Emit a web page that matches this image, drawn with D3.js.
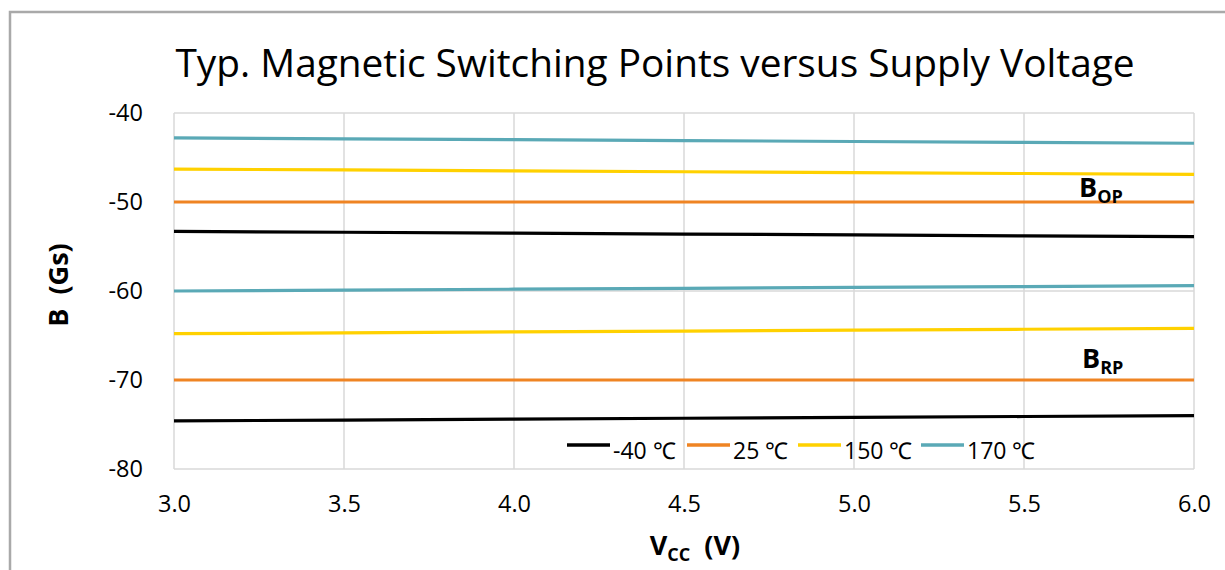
<!DOCTYPE html>
<html>
<head>
<meta charset="utf-8">
<script src="https://cdn.jsdelivr.net/npm/d3@7"></script>
<style>
  body { margin: 0; background: #fff; }
  svg text { font-family: "Segoe UI", "Open Sans", sans-serif; fill: #000; }
</style>
</head>
<body>
<div id="chart"></div>
<script>
// supply voltage (V)
const voltages = [3.0, 3.5, 4.0, 4.5, 5.0, 5.5, 6.0];
const temps = ["-40 ℃", "25 ℃", "150 ℃", "170 ℃"];
const colors = ["#000000", "#ef8423", "#ffd100", "#5aa9b6"];

// operate points B_OP (Gs)
const bopM40 = [-53.3, -53.4, -53.5, -53.6, -53.7, -53.8, -53.9];
const bop25 = [-50, -50, -50, -50, -50, -50, -50];
const bop150 = [-46.3, -46.4, -46.5, -46.6, -46.7, -46.8, -46.9];
const bop170 = [-42.8, -42.9, -43.0, -43.1, -43.2, -43.3, -43.4];

// release points B_RP (Gs)
const brpM40 = [-74.6, -74.5, -74.4, -74.3, -74.2, -74.1, -74.0];
const brp25 = [-70, -70, -70, -70, -70, -70, -70];
const brp150 = [-64.8, -64.7, -64.6, -64.5, -64.4, -64.3, -64.2];
const brp170 = [-60.0, -59.9, -59.8, -59.7, -59.6, -59.5, -59.4];

const xTicks = [3.0, 3.5, 4.0, 4.5, 5.0, 5.5, 6.0];
const yTicks = [-80, -70, -60, -50, -40];

const series = [
  { temp: 0, values: bopM40 }, { temp: 1, values: bop25 },
  { temp: 2, values: bop150 }, { temp: 3, values: bop170 },
  { temp: 0, values: brpM40 }, { temp: 1, values: brp25 },
  { temp: 2, values: brp150 }, { temp: 3, values: brp170 }
];

const W = 1225, H = 570;
const margin = { top: 113, right: 31, bottom: 101, left: 174 };
const width = W - margin.left - margin.right;
const height = H - margin.top - margin.bottom;

const svg = d3.select("#chart").append("svg")
  .attr("width", W).attr("height", H);

// outer chart frame (runs off the right and bottom edges)
svg.append("rect")
  .attr("x", 10).attr("y", 12)
  .attr("width", W + 20).attr("height", H + 20)
  .attr("fill", "none").attr("stroke", "#a9a9a9").attr("stroke-width", 2.5);

svg.append("text")
  .attr("x", 655).attr("y", 77)
  .attr("text-anchor", "middle")
  .style("font-size", "38.8px")
  .text("Typ. Magnetic Switching Points versus Supply Voltage");

const g = svg.append("g")
  .attr("transform", `translate(${margin.left},${margin.top})`);

const x = d3.scaleLinear().domain([3, 6]).range([0, width]);
const y = d3.scaleLinear().domain([-80, -40]).range([height, 0]);

// grid
g.append("g").selectAll("line").data(xTicks).enter().append("line")
  .attr("x1", d => x(d)).attr("x2", d => x(d))
  .attr("y1", 0).attr("y2", height)
  .attr("stroke", "#d9d9d9").attr("stroke-width", 1.5);
g.append("g").selectAll("line").data(yTicks).enter().append("line")
  .attr("x1", 0).attr("x2", width)
  .attr("y1", d => y(d)).attr("y2", d => y(d))
  .attr("stroke", "#d9d9d9").attr("stroke-width", 1.5);

// axes (labels only)
const xAxis = g.append("g")
  .attr("transform", `translate(0,${height})`)
  .call(d3.axisBottom(x).tickValues(xTicks).tickFormat(d3.format(".1f")).tickSize(0).tickPadding(26));
const yAxis = g.append("g")
  .call(d3.axisLeft(y).tickValues(yTicks).tickFormat(d => String(d)).tickSize(0).tickPadding(31));
[xAxis, yAxis].forEach(a => {
  a.select(".domain").remove();
  a.selectAll("text").style("font-size", "23.5px").style("font-family", null);
});

// lines
const line = d3.line()
  .x((d, i) => x(voltages[i]))
  .y(d => y(d));

g.selectAll(".series").data(series).enter().append("path")
  .attr("class", "series")
  .attr("d", d => line(d.values))
  .attr("fill", "none")
  .attr("stroke", d => colors[d.temp])
  .attr("stroke-width", 3.2);

// B_OP / B_RP annotations
function bLabel(xp, yp, sub) {
  const t = svg.append("text")
    .attr("x", xp).attr("y", yp)
    .style("font-size", "27px").style("font-weight", "bold");
  t.append("tspan").text("B");
  t.append("tspan").attr("dy", 6).style("font-size", "18px").text(sub);
}
bLabel(1079, 197, "OP");
bLabel(1082, 368, "RP");

// legend
const legendX = [567, 687, 798, 921];
const lg = svg.append("g");
temps.forEach((t, i) => {
  lg.append("line")
    .attr("x1", legendX[i]).attr("x2", legendX[i] + 43)
    .attr("y1", 445).attr("y2", 445)
    .attr("stroke", colors[i]).attr("stroke-width", 3.5);
  lg.append("text")
    .attr("x", legendX[i] + 46).attr("y", 459)
    .style("font-size", "23px")
    .text(t);
});

// axis titles
const xt = svg.append("text")
  .attr("x", 695).attr("y", 555)
  .attr("text-anchor", "middle")
  .style("font-size", "27px").style("font-weight", "bold");
xt.append("tspan").text("V");
xt.append("tspan").attr("dy", 6).style("font-size", "18px").text("CC");
xt.append("tspan").attr("dy", -6).text("\u00a0\u00a0(V)");

svg.append("text")
  .attr("transform", "translate(68,285) rotate(-90)")
  .attr("text-anchor", "middle")
  .style("font-size", "27px").style("font-weight", "bold")
  .text("B\u00a0\u00a0(Gs)");
</script>
</body>
</html>
